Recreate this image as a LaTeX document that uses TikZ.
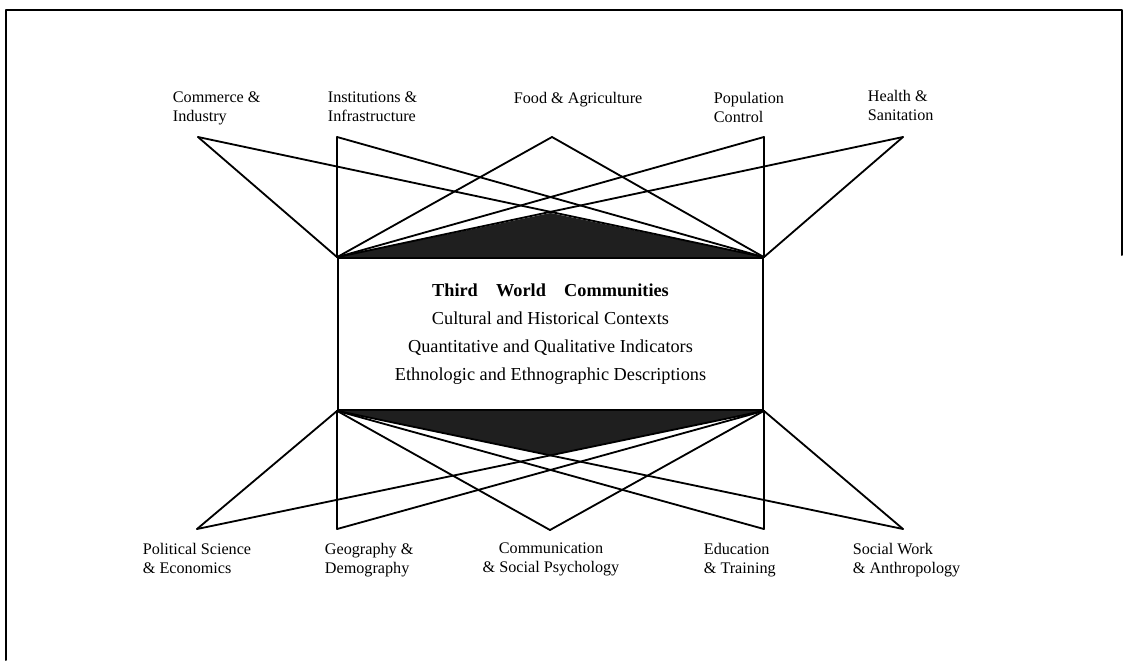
\documentclass[tikz,border=0pt]{standalone}
\usepackage{fontspec}
\setmainfont{Liberation Serif}
\usetikzlibrary{positioning}
\tikzstyle{every path}=[line width=1.3pt,line cap=round,line join=round]
\tikzstyle{lab}=[inner sep=0pt,align=left,font=\fontsize{11.5}{13.6}\selectfont]
\tikzstyle{hubbox}=[draw,line width=1.2pt,inner sep=0pt,minimum width=10.625cm,minimum height=3.8cm,align=center,font=\fontsize{13}{19.9}\selectfont]

\begin{document}
\begin{tikzpicture}[x=0.025cm,y=-0.025cm]
\useasboundingbox (0,0) rectangle (1126,660);
\draw[line width=1.4pt] (1122,255) -- (1122,10) -- (6,10) -- (6,660);
\node[hubbox] (hub) at (550.5,334) {\textbf{Third\quad World\quad Communities}\\Cultural and Historical Contexts\\Quantitative and Qualitative Indicators\\Ethnologic and Ethnographic Descriptions};
% top ends
\coordinate (tCommerce) at (198,137);
\coordinate (tInstitutions) at (hub.north west |- tCommerce);
\coordinate (tFood) at (552,137);
\coordinate (tPopulation) at (hub.north east |- tCommerce);
\coordinate (tHealth) at (903,137);
% bottom ends
\coordinate (bPolitical) at (197,529);
\coordinate (bGeography) at (hub.south west |- bPolitical);
\coordinate (bCommunication) at (550,530);
\coordinate (bEducation) at (hub.south east |- bPolitical);
\coordinate (bSocial) at (903,529);
\coordinate (topPeak) at (550.5,213);
\coordinate (botPeak) at (550.5,455);
\fill[black!88] (hub.north west) -- (topPeak) -- (hub.north east) -- cycle;
\fill[black!88] (hub.south west) -- (botPeak) -- (hub.south east) -- cycle;
\draw (tCommerce) -- (hub.north west);
\draw (tCommerce) -- (hub.north east);
\draw (tInstitutions) -- (hub.north west);
\draw (tInstitutions) -- (hub.north east);
\draw (tFood) -- (hub.north west);
\draw (tFood) -- (hub.north east);
\draw (tPopulation) -- (hub.north west);
\draw (tPopulation) -- (hub.north east);
\draw (tHealth) -- (hub.north west);
\draw (tHealth) -- (hub.north east);
\draw (bPolitical) -- (hub.south west);
\draw (bPolitical) -- (hub.south east);
\draw (bGeography) -- (hub.south west);
\draw (bGeography) -- (hub.south east);
\draw (bCommunication) -- (hub.south west);
\draw (bCommunication) -- (hub.south east);
\draw (bEducation) -- (hub.south west);
\draw (bEducation) -- (hub.south east);
\draw (bSocial) -- (hub.south west);
\draw (bSocial) -- (hub.south east);
% labels
\node[lab,anchor=north west] (commerce) at (172,91) {Commerce \&\\Industry};
\node[lab,anchor=north west] (institutions) at (327,91) {Institutions \&\\Infrastructure};
\node[lab,anchor=north west] (food) at (513,91) {Food \& Agriculture};
\node[lab,anchor=north west] (population) at (713,91) {Population\\Control};
\node[lab,anchor=north west] (health) at (867,89) {Health \&\\Sanitation};
\node[lab,anchor=north west] (political) at (142,542) {Political Science\\\& Economics};
\node[lab,anchor=north west] (geography) at (324,542) {Geography \&\\Demography};
\node[lab,anchor=north,align=center] (communication) at (551,542) {Communication\\\& Social Psychology};
\node[lab,anchor=north west] (education) at (703,542) {Education\\\& Training};
\node[lab,anchor=north west] (socialwork) at (852,542) {Social Work\\\& Anthropology};
\end{tikzpicture}
\end{document}
